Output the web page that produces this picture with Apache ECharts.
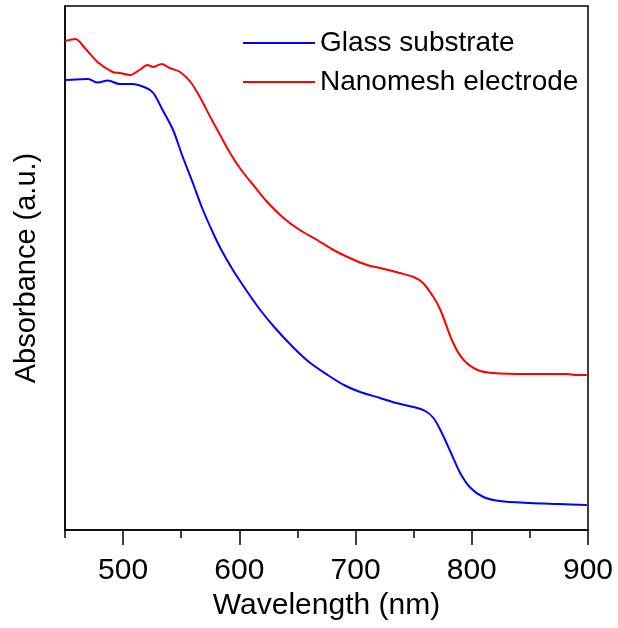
<!DOCTYPE html>
<html>
<head>
<meta charset="utf-8">
<script src="https://cdn.jsdelivr.net/npm/echarts@6/dist/echarts.min.js"></script>
<style>
  html, body { margin: 0; padding: 0; background: #fff; }
  #chart { width: 618px; height: 628px; }
</style>
</head>
<body>
<div id="chart"></div>
<script>
// wavelength (nm) and absorbance (arbitrary units)
const blueWavelength = [450, 460, 470, 478, 487, 497, 508, 520, 526, 534, 543, 551, 560, 568, 577, 585, 595, 607, 618, 630, 646, 660, 676, 690, 704, 721, 735, 750, 760, 767, 773, 781, 790, 799, 810, 824, 850, 875, 899]
const blueAbsorbance = [450, 450.5, 451, 447.5, 449.5, 446, 446, 442, 437, 420, 400, 374, 347, 322, 298, 279, 259, 238, 220, 203, 183, 168, 155, 145, 138, 132, 127, 123, 119, 112, 100, 80, 57, 42, 33, 29, 27, 26, 25]

const redWavelength = [450, 459, 467, 478, 491, 497, 506, 514, 521, 526, 533, 540, 549, 558, 566, 575, 583, 592, 601, 612, 624, 638, 652, 667, 681, 695, 710, 721, 738, 750, 758, 767, 773, 784, 793, 805, 818, 850, 882, 890, 899]
const redAbsorbance = [489, 491, 482, 468, 458, 457, 455, 460, 465, 463, 466, 462, 458, 448, 433, 413, 396, 377, 361, 345, 328, 312, 300, 290, 280, 272, 265, 262, 257, 253, 247, 233, 220, 187, 170, 160, 157, 156, 156, 155, 155]

const majorTicks = [500, 600, 700, 800, 900]
const minorTicks = [450, 550, 650, 750, 850]

const pairs = (xs, ys) => xs.map((x, i) => [x, ys[i]])

const font = 'Liberation Sans, Arial, sans-serif'
const chart = echarts.init(document.getElementById('chart'))

const option = {
  animation: false,
  grid: {
    left: 65,
    right: 30,
    top: 6,
    bottom: 98,
    show: true,
    borderColor: '#000',
    borderWidth: 1.5
  },
  legend: {
    orient: 'vertical',
    left: 243,
    top: 28,
    padding: 0,
    itemWidth: 72,
    itemHeight: 2,
    itemGap: 9,
    icon: 'rect',
    textStyle: { fontFamily: font, fontSize: 28, color: '#000', lineHeight: 30 },
    data: ['Glass substrate', 'Nanomesh electrode']
  },
  xAxis: [
    {
      type: 'value',
      min: 450,
      max: 900,
      position: 'bottom',
      name: 'Wavelength (nm)',
      nameLocation: 'middle',
      nameGap: 57,
      nameTextStyle: { fontFamily: font, fontSize: 30, color: '#000' },
      axisLine: { show: true, lineStyle: { color: '#000', width: 1.5 } },
      axisTick: { show: true, length: 15, customValues: majorTicks, lineStyle: { color: '#000', width: 1.5 } },
      axisLabel: { customValues: majorTicks, fontFamily: font, fontSize: 30, color: '#000', margin: 26 },
      splitLine: { show: false }
    },
    {
      type: 'value',
      min: 450,
      max: 900,
      position: 'bottom',
      axisLine: { show: false },
      axisTick: { show: true, length: 8, customValues: minorTicks, lineStyle: { color: '#000', width: 1.5 } },
      axisLabel: { show: false },
      splitLine: { show: false }
    }
  ],
  yAxis: {
    type: 'value',
    min: 0,
    max: 524,
    name: 'Absorbance (a.u.)',
    nameLocation: 'middle',
    nameGap: 24,
    nameTextStyle: { fontFamily: font, fontSize: 29, color: '#000' },
    axisLine: { show: true, lineStyle: { color: '#000', width: 1.5 } },
    axisTick: { show: false },
    axisLabel: { show: false },
    splitLine: { show: false }
  },
  series: [
    {
      name: 'Glass substrate',
      type: 'line',
      color: '#0000ff',
      showSymbol: false,
      smooth: 0.3,
      lineStyle: { width: 2 },
      data: pairs(blueWavelength, blueAbsorbance)
    },
    {
      name: 'Nanomesh electrode',
      type: 'line',
      color: '#ff0000',
      showSymbol: false,
      smooth: 0.3,
      lineStyle: { width: 2 },
      data: pairs(redWavelength, redAbsorbance)
    }
  ]
}

chart.setOption(option)
</script>
</body>
</html>
